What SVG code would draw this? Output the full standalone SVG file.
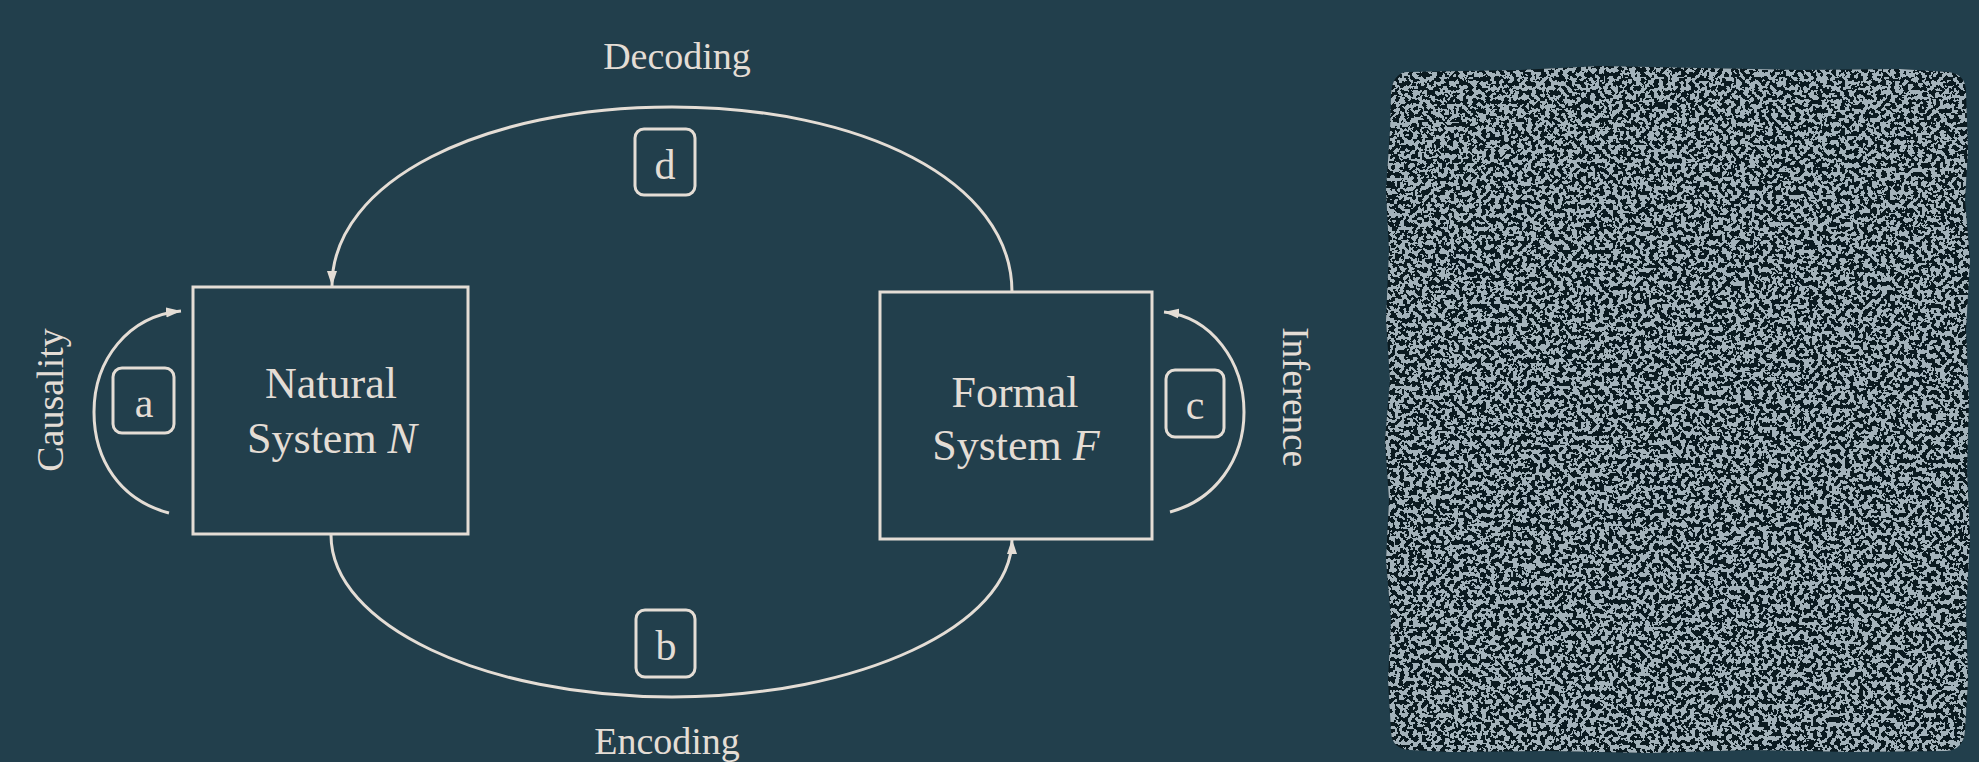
<svg xmlns="http://www.w3.org/2000/svg" width="1979" height="762" viewBox="0 0 1979 762">
<style>
.ln{fill:none;stroke:#e4ddd5;stroke-width:3}
.bx{fill:none;stroke:#e4ddd5;stroke-width:3}
.tx{fill:#e4ddd5;font-family:"Liberation Serif","Times New Roman",serif}
.big{font-size:44px;text-anchor:middle}
.lab{font-size:38px;text-anchor:middle}
.let{font-size:42px;text-anchor:middle}
</style>
<defs>
<marker id="arr" markerUnits="userSpaceOnUse" markerWidth="16" markerHeight="12" refX="15" refY="6" orient="auto">
<path d="M0,1 L15,6 L0,11 z" fill="#e4ddd5"/>
</marker>
<filter id="noise" color-interpolation-filters="sRGB" x="0" y="0" width="100%" height="100%">
<feTurbulence type="fractalNoise" baseFrequency="0.22" numOctaves="2" seed="7" result="t"/>
<feColorMatrix in="t" type="matrix" values="0 0 0 0 0.64  0 0 0 0 0.70  0 0 0 0 0.73  1 0 0 0 0" result="c"/>
<feComponentTransfer in="c" result="d"><feFuncA type="discrete" tableValues="0 1"/></feComponentTransfer>
<feComposite in="d" in2="SourceGraphic" operator="in" result="e"/>
<feMerge><feMergeNode in="SourceGraphic"/><feMergeNode in="e"/></feMerge>
</filter>
</defs>
<rect width="1979" height="762" fill="#223f4c"/>

<g id="connectors">
<path id="decoding" class="ln" d="M1012 292 C1012 180 860 107 672 107 C484 107 332 180 332 286" marker-end="url(#arr)"/>
<path id="encoding" class="ln" d="M331 535 C331 625 484 697 672 697 C860 697 1012 625 1012 539" marker-end="url(#arr)"/>
<path id="causality" class="ln" d="M169 513 C120 500 94 460 94 412 C94 360 128 316 181 311" marker-end="url(#arr)"/>
<path id="inference" class="ln" d="M1170 512 C1215 500 1244 460 1244 412 C1244 362 1212 317 1164 312" marker-end="url(#arr)"/>
</g>

<g id="labels">
<text class="tx lab" x="677" y="69">Decoding</text>
<text class="tx lab" x="667" y="754">Encoding</text>
<text class="tx lab" transform="translate(63 400) rotate(-90)">Causality</text>
<text class="tx lab" transform="translate(1283 397) rotate(90)" style="font-size:37px">Inference</text>
</g>

<g id="natural">
<rect class="bx" x="193" y="287" width="275" height="247"/>
<text class="tx big" x="331" y="398">Natural</text>
<text class="tx big" x="332" y="453">System <tspan font-style="italic">N</tspan></text>
</g>

<g id="formal">
<rect class="bx" x="880" y="292" width="272" height="247"/>
<text class="tx big" x="1015" y="407">Formal</text>
<text class="tx big" x="1016" y="460">System <tspan font-style="italic">F</tspan></text>
</g>

<g id="tag-a">
<rect class="bx" x="113" y="368" width="61" height="65" rx="9"/>
<text class="tx let" x="144" y="417">a</text>
</g>
<g id="tag-b">
<rect class="bx" x="636" y="610" width="59" height="67" rx="9"/>
<text class="tx let" x="666" y="660">b</text>
</g>
<g id="tag-c">
<rect class="bx" x="1166" y="370" width="58" height="67" rx="9"/>
<text class="tx let" x="1195" y="419">c</text>
</g>
<g id="tag-d">
<rect class="bx" x="635" y="129" width="60" height="66" rx="9"/>
<text class="tx let" x="665" y="179">d</text>
</g>

<g id="noise-panel">
<path fill="#0b1a20" filter="url(#noise)" d="M1406 72 L1520 70 L1600 66 L1700 68 L1800 70 L1900 69 L1948 72 Q1966 74 1966 92 L1968 150 L1965 200 L1970 260 L1966 330 L1969 400 L1967 470 L1970 540 L1966 610 L1968 680 L1965 730 Q1964 750 1946 751 L1850 752 L1750 750 L1650 753 L1550 751 L1450 752 L1410 750 Q1392 749 1391 732 L1388 680 L1391 620 L1386 560 L1389 500 L1385 440 L1390 380 L1386 320 L1389 250 L1386 190 L1390 130 L1391 95 Q1392 74 1406 72 Z"/>
</g>
</svg>
